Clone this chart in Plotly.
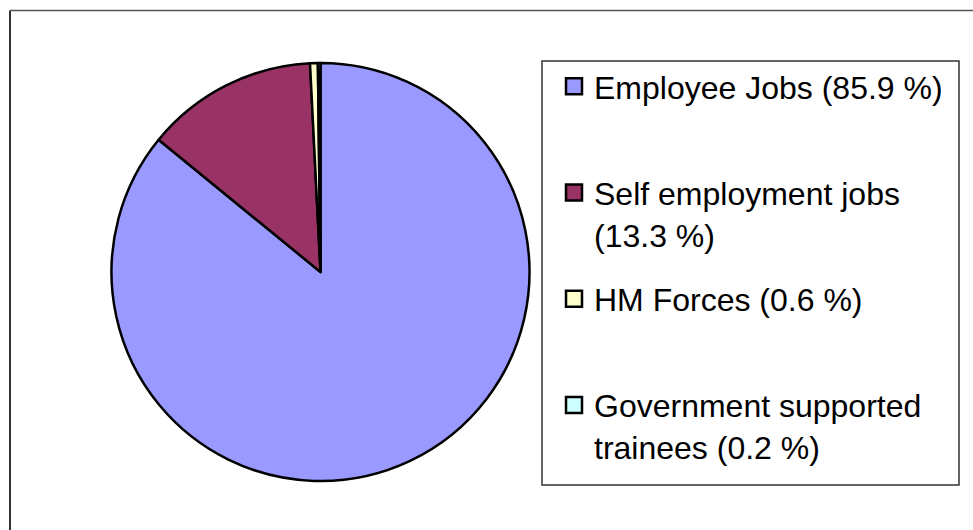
import textwrap
import plotly.graph_objects as go

# ---- data ----
categories = ["Employee Jobs", "Self employment jobs", "HM Forces", "Government supported trainees"]
shares = [85.9, 13.3, 0.6, 0.2]
colors = ["#9999FF", "#993366", "#FFFFCC", "#CCFFFF"]

FONT = "Liberation Sans, Arial, sans-serif"


def legend_label(cat, v):
    lines = textwrap.wrap(f"{cat} ({v} %)", width=22)
    while len(lines) < 2:
        lines.append(" ")
    return "<br>".join(lines)


fig = go.Figure()

fig.add_trace(go.Pie(
    labels=categories,
    values=shares,
    sort=False,
    direction="clockwise",
    rotation=0,
    textinfo="none",
    hoverinfo="label+percent",
    marker=dict(colors=colors, line=dict(color="#000000", width=2.5)),
    domain=dict(x=[111.5 / 973, 529.5 / 973], y=[49 / 530, 467 / 530]),
    showlegend=False,
))

# legend entries (one per slice)
for i, (cat, v, c) in enumerate(zip(categories, shares, colors)):
    fig.add_trace(go.Scatter(
        x=[None], y=[None], mode="markers",
        name=legend_label(cat, v),
        legendgroup=f"g{i}",
        marker=dict(symbol="square", size=16, color=c, line=dict(color="#000000", width=2.5)),
        showlegend=True,
    ))

# outer chart frame and legend frame
fig.add_shape(type="line", xref="paper", yref="paper",
              x0=10 / 973, x1=10 / 973, y0=-0.05, y1=1 - 10.5 / 530,
              line=dict(color="#333333", width=2))
fig.add_shape(type="line", xref="paper", yref="paper",
              x0=10 / 973, x1=1.05, y0=1 - 10.5 / 530, y1=1 - 10.5 / 530,
              line=dict(color="#555555", width=1.5))
fig.add_shape(type="rect", xref="paper", yref="paper",
              x0=542 / 973, x1=959 / 973, y0=1 - 485 / 530, y1=1 - 61 / 530,
              line=dict(color="#333333", width=1.5), fillcolor="rgba(0,0,0,0)")

fig.update_layout(
    width=973, height=530,
    margin=dict(l=0, r=0, t=0, b=0),
    paper_bgcolor="white", plot_bgcolor="white",
    xaxis=dict(visible=False), yaxis=dict(visible=False),
    font=dict(family=FONT, color="#000000"),
    legend=dict(
        x=554 / 973, y=1 - 59 / 530, xanchor="left", yanchor="top",
        font=dict(family=FONT, size=32, color="#000000"),
        valign="top", traceorder="grouped", tracegroupgap=20,
        bgcolor="rgba(0,0,0,0)", borderwidth=0,
    ),
)

fig.write_html("out.html")
